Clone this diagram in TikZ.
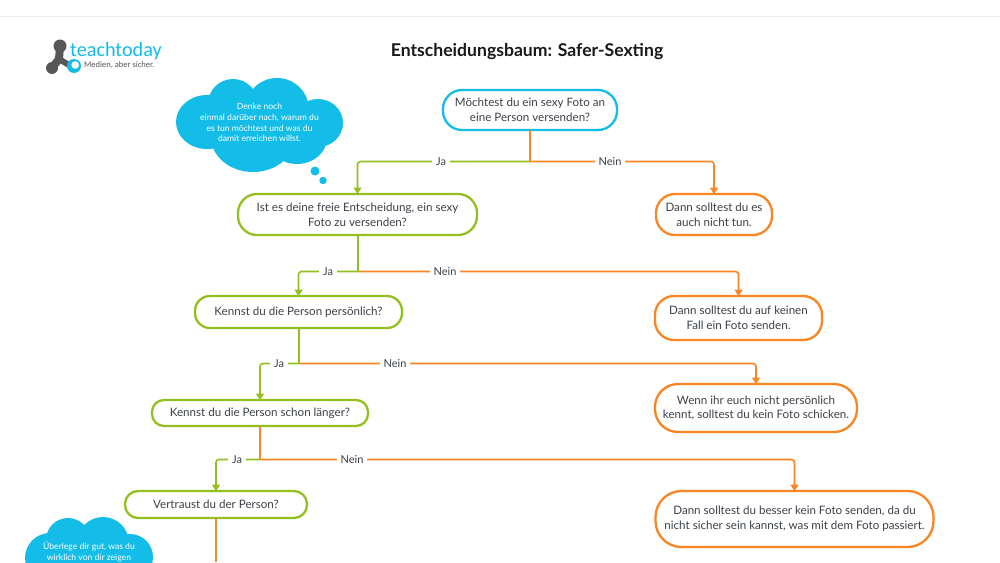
\documentclass[tikz,border=0pt]{standalone}
\usepackage{fontspec}
\setmainfont{Lato}
\newfontfamily\logofont{Carlito}
\usetikzlibrary{arrows.meta,calc}
\definecolor{tblue}{HTML}{14BDE8}
\definecolor{tgreen}{HTML}{93C01F}
\definecolor{torange}{HTML}{FA8522}
\definecolor{ttext}{HTML}{3C4048}
\definecolor{tlogo}{HTML}{58585A}
\tikzset{
  box/.style={draw=#1,line width=2.3pt,fill=white,rounded corners=19pt,align=center,text=ttext,
    font=\fontsize{11.6}{14.8}\selectfont,inner sep=0pt,outer sep=0pt},
  conn/.style={draw=#1,line width=1.6pt,rounded corners=3pt,-{Triangle[length=6.5pt,width=8pt]}},
  stem/.style={draw=#1,line width=2pt},
  thinstem/.style={draw=#1,line width=1.4pt},
  lab/.style={fill=white,text=ttext,font=\fontsize{11}{13}\selectfont,inner xsep=4pt,inner ysep=1pt},
  cloudtext/.style={text=white,align=center,font=\fontsize{8.6}{10.8}\selectfont,inner sep=0pt},
}
\begin{document}
\begin{tikzpicture}[x=1pt,y=-1pt]
\useasboundingbox (0,0) rectangle (1000,562);
\fill[white] (0,0) rectangle (1000,562);
\draw[line width=0.8pt,black!7] (0,16) -- (1000,16);
\clip (0,0) rectangle (1000,562);

% logo
\draw[tlogo,line width=8pt,line cap=round,line join=round] (60,47) -- (59,59) -- (52,68);
\draw[tlogo,line width=6pt,line cap=round] (59,59) -- (69,65);
\fill[tlogo] (60,46) circle (6.5);
\fill[tlogo] (52,68) circle (6);
\fill[tblue] (74,66) circle (7);
\fill[white] (75.2,65) circle (3.8);
\node[anchor=base west,inner sep=0pt,text=tblue,font=\logofont\fontsize{20.2}{22}\selectfont] (logoa) at (70,56) {teachtoday};
\node[anchor=base west,inner sep=0pt,text=tlogo,font=\logofont\fontsize{8.5}{10}\selectfont] (logob) at (84,67) {Medien, aber sicher.};

% title
\node[font=\bfseries\fontsize{17.6}{18}\selectfont,text=black!90,inner sep=0pt] (title) at (527,51.5) {Entscheidungsbaum: Safer-Sexting};

% cloud 1
\fill[tblue] (207,122) ellipse [x radius=31,y radius=27];
\fill[tblue] (233,104) circle (25);
\fill[tblue] (277,110) circle (32);
\fill[tblue] (318,123) ellipse [x radius=25,y radius=24];
\fill[tblue] (253,137) ellipse [x radius=42,y radius=35];
\fill[tblue] (297,138) ellipse [x radius=30,y radius=26];
\fill[tblue] (260,125) ellipse [x radius=50,y radius=32];
\fill[tblue] (315,171) circle (4.5);
\fill[tblue] (323,180.5) circle (3.7);
\node[cloudtext] (c1) at (259.5,122.5) {Denke noch\\einmal darüber nach, warum du\\es tun möchtest und was du\\damit erreichen willst.};

% cloud 2
\fill[tblue] (68,540) circle (22);
\fill[tblue] (103,543) circle (26);
\fill[tblue] (50,558) ellipse [x radius=25,y radius=25];
\fill[tblue] (130,557) ellipse [x radius=23,y radius=23];
\fill[tblue] (90,565) ellipse [x radius=50,y radius=28];
\node[cloudtext,anchor=north] (c2) at (89,542) {Überlege dir gut, was du\\wirklich von dir zeigen};

% junctions
\coordinate (j1) at (530,161.5);
\coordinate (j2) at (357.5,271.5);
\coordinate (j3) at (298.5,363.5);
\coordinate (j4) at (260,459.5);
\coordinate (endq) at (216,562);

% boxes
\node[box=tblue,minimum width=174pt,minimum height=40pt] (q1) at (530,110) {Möchtest du ein sexy Foto an\\eine Person versenden?};
\node[box=tgreen,minimum width=239pt,minimum height=41pt] (q2) at (357.5,214.5) {Ist es deine freie Entscheidung, ein sexy\\Foto zu versenden?};
\node[box=tgreen,minimum width=207pt,minimum height=32pt,rounded corners=15pt] (q3) at (298.5,312) {Kennst du die Person persönlich?};
\node[box=tgreen,minimum width=216pt,minimum height=26pt,rounded corners=12pt] (q4) at (260,413) {Kennst du die Person schon länger?};
\node[box=tgreen,minimum width=182pt,minimum height=27pt,rounded corners=13pt] (q5) at (216,504.5) {Vertraust du der Person?};
\node[box=torange,minimum width=116pt,minimum height=41pt] (a1) at (714,214.5) {Dann solltest du es\\auch nicht tun.};
\node[box=torange,minimum width=167pt,minimum height=44pt] (a2) at (738.5,318) {Dann solltest du auf keinen\\Fall ein Foto senden.};
\node[box=torange,minimum width=202pt,minimum height=48pt,rounded corners=23pt] (a3) at (756,408) {Wenn ihr euch nicht persönlich\\kennt, solltest du kein Foto schicken.};
\node[box=torange,minimum width=278pt,minimum height=56pt,rounded corners=26pt] (a4) at (794.5,519) {Dann solltest du besser kein Foto senden, da du\\nicht sicher sein kannst, was mit dem Foto passiert.};

% connectors
\draw[conn=tgreen] (j1) -| (q2.north);
\draw[conn=torange] (j1) -| (a1.north);
\draw[stem=torange] (q1.south) -- (j1);

\draw[conn=torange] (j2) -| (a2.north);
\draw[conn=tgreen] (j2) -| (q3.north);
\draw[stem=tgreen] (q2.south) -- (j2);

\draw[conn=torange] (j3) -| (a3.north);
\draw[conn=tgreen] (j3) -| (q4.north);
\draw[stem=tgreen] (q3.south) -- (j3);

\draw[conn=tgreen] (j4) -| (q5.north);
\draw[conn=torange] (j4) -| (a4.north);
\draw[thinstem=tgreen,transform canvas={xshift=-0.6pt}] (q4.south) -- (j4);
\draw[thinstem=torange,transform canvas={xshift=0.6pt}] (q4.south) -- (j4);

\draw[stem=torange] (q5.south) -- (endq);

% branch labels
\node[lab] (l1) at (441,161.8) {Ja};
\node[lab] (n1) at (610,161.8) {Nein};
\node[lab] (l2) at (328,271.8) {Ja};
\node[lab] (n2) at (445,271.8) {Nein};
\node[lab] (l3) at (279,363.8) {Ja};
\node[lab] (n3) at (395,363.8) {Nein};
\node[lab] (l4) at (237,459.8) {Ja};
\node[lab] (n4) at (352,459.8) {Nein};
\end{tikzpicture}
\end{document}
